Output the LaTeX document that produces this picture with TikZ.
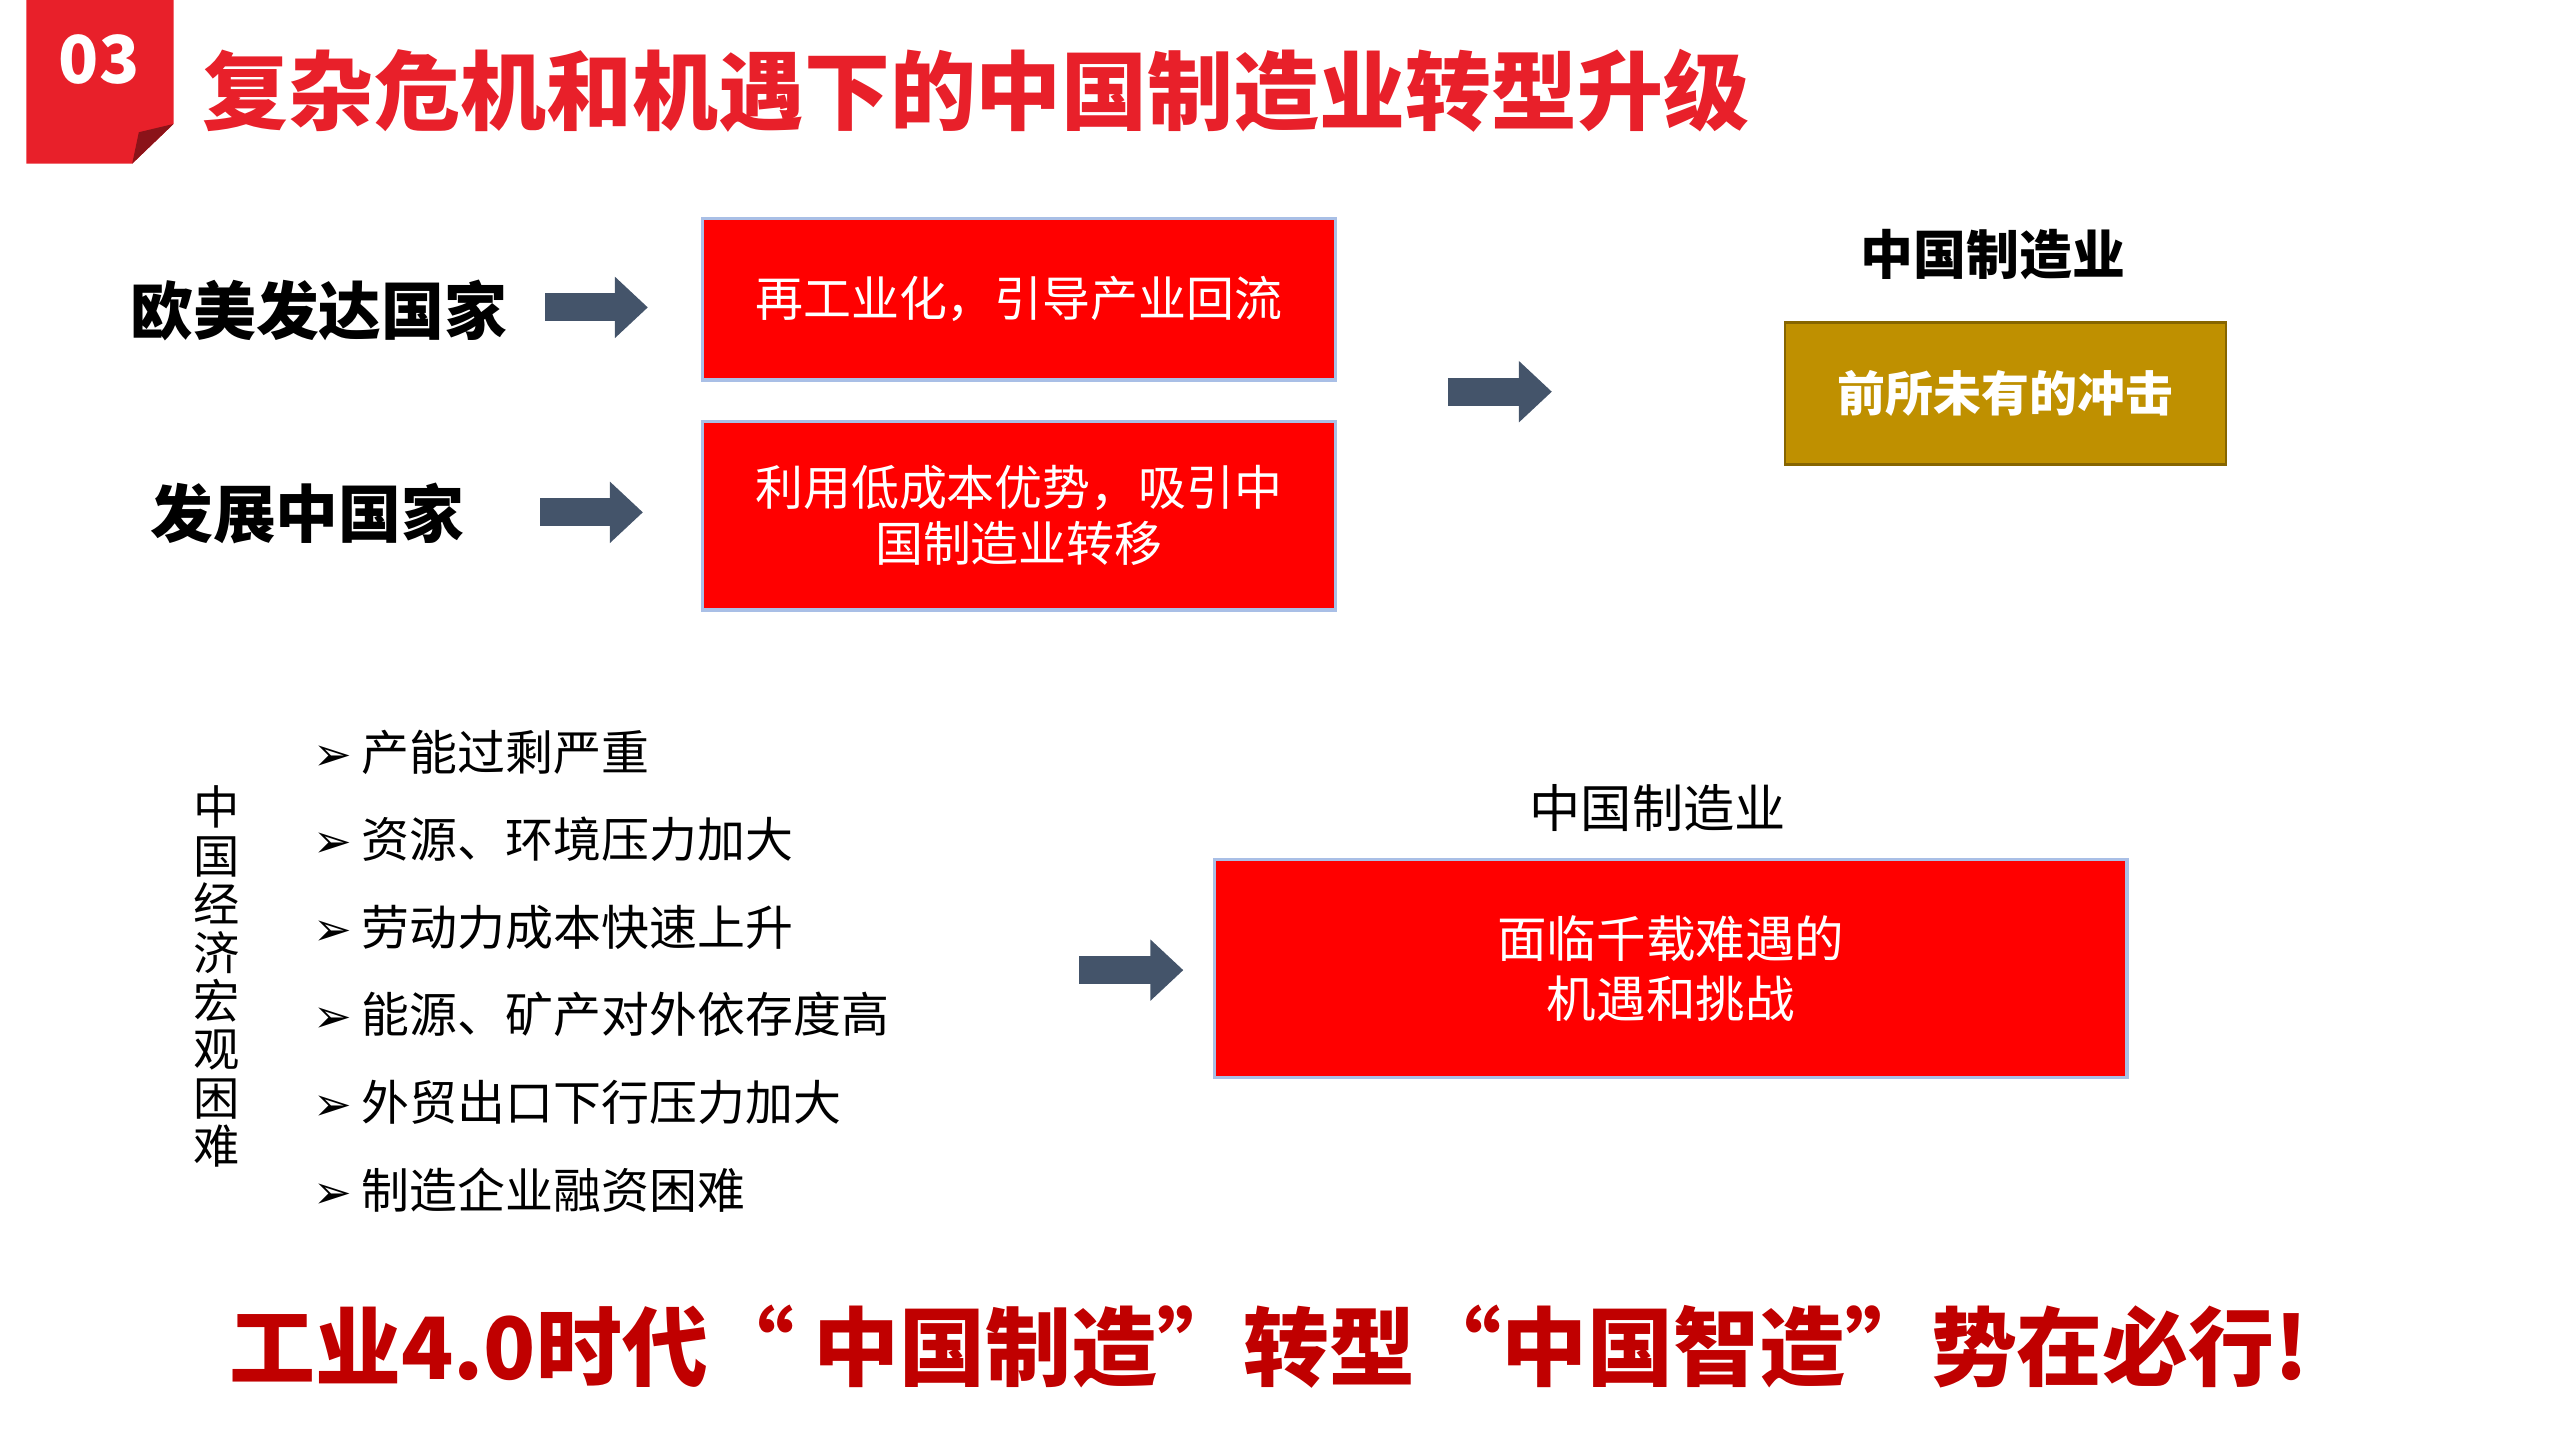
\documentclass[tikz,border=0pt]{standalone}
\usepackage{fontspec}
\setmainfont{Noto Sans CJK SC}
\newfontfamily\dingfont{DejaVu Sans}
\usetikzlibrary{arrows.meta}
\definecolor{tred}{HTML}{E8202A}
\definecolor{bred}{HTML}{C00000}
\definecolor{agrey}{HTML}{44546A}
\definecolor{bord}{HTML}{A9BFE6}
\definecolor{gold}{HTML}{BF9000}
\begin{document}
\begin{tikzpicture}[x=1pt,y=-1pt,
  redbox/.style={draw=bord,line width=2pt,fill=red,text=white,font=\fontsize{29}{34}\selectfont,align=center},
  blk/.style={draw=agrey,line width=17pt,-{Triangle[length=20pt,width=36pt]}},
  lbl/.style={font=\fontsize{38}{44}\selectfont\bfseries},
  item/.style={anchor=west,font=\fontsize{29}{34}\selectfont}]
\useasboundingbox (0,0) rectangle (1549,871);
\fill[tred] (16,0) -- (105,0) -- (105,75) -- (80,99) -- (16,99) -- cycle;
\fill[tred!60!black] (80,99) -- (84,80) -- (105,75) -- cycle;
\node[text=white,font=\fontsize{40}{44}\selectfont\bfseries] (badge) at (60,36) {03};
\node[anchor=west,text=tred,font=\fontsize{52}{58}\selectfont\bfseries] (title) at (119,55) {复杂危机和机遇下的中国制造业转型升级};
\node[lbl] (eu) at (193,188) {欧美发达国家};
\coordinate (a1s) at (330,186); \coordinate (a1e) at (392,186);
\draw[blk] (a1s) -- (a1e);
\node[redbox,minimum width=383pt,minimum height=98pt] (b1) at (616.5,181) {再工业化，引导产业回流};
\node[lbl] (dev) at (186,311) {发展中国家};
\coordinate (a2s) at (327,310); \coordinate (a2e) at (389,310);
\draw[blk] (a2s) -- (a2e);
\node[redbox,minimum width=383pt,minimum height=114pt] (b2) at (616.5,312) {利用低成本优势，吸引中\\国制造业转移};
\coordinate (a3s) at (876,237); \coordinate (a3e) at (939,237);
\draw[blk] (a3s) -- (a3e);
\node[font=\fontsize{32}{36}\selectfont\bfseries] (cm1) at (1206,154) {中国制造业};
\node[draw=gold!70!black,line width=1.5pt,fill=gold,text=white,font=\fontsize{29}{34}\selectfont\bfseries,minimum width=267pt,minimum height=86pt] (g) at (1213.5,238) {前所未有的冲击};
\node[font=\fontsize{28}{29.3}\selectfont,align=center] (vert) at (131,591) {中\\国\\经\\济\\宏\\观\\困\\难};
\foreach \t [count=\i] in {产能过剩严重,资源、环境压力加大,劳动力成本快速上升,能源、矿产对外依存度高,外贸出口下行压力加大,制造企业融资困难}{
  \node[item] (it\i) at (186,402+53*\i) {{\dingfont\fontsize{28}{30}\selectfont ➢}\hspace{6pt}\t};
}
\coordinate (a4s) at (653,587); \coordinate (a4e) at (716,587);
\draw[blk] (a4s) -- (a4e);
\node[font=\fontsize{31}{36}\selectfont] (cm2) at (1003,489) {中国制造业};
\node[redbox,minimum width=552pt,minimum height=132pt,font=\fontsize{30}{36}\selectfont] (b3) at (1011,586) {面临千载难遇的\\机遇和挑战};
\node[text=bred,font=\fontsize{52}{58}\selectfont\bfseries] (bottom) at (768,815) {工业4.0时代“ 中国制造”转型“中国智造”势在必行!};
\end{tikzpicture}
\end{document}
